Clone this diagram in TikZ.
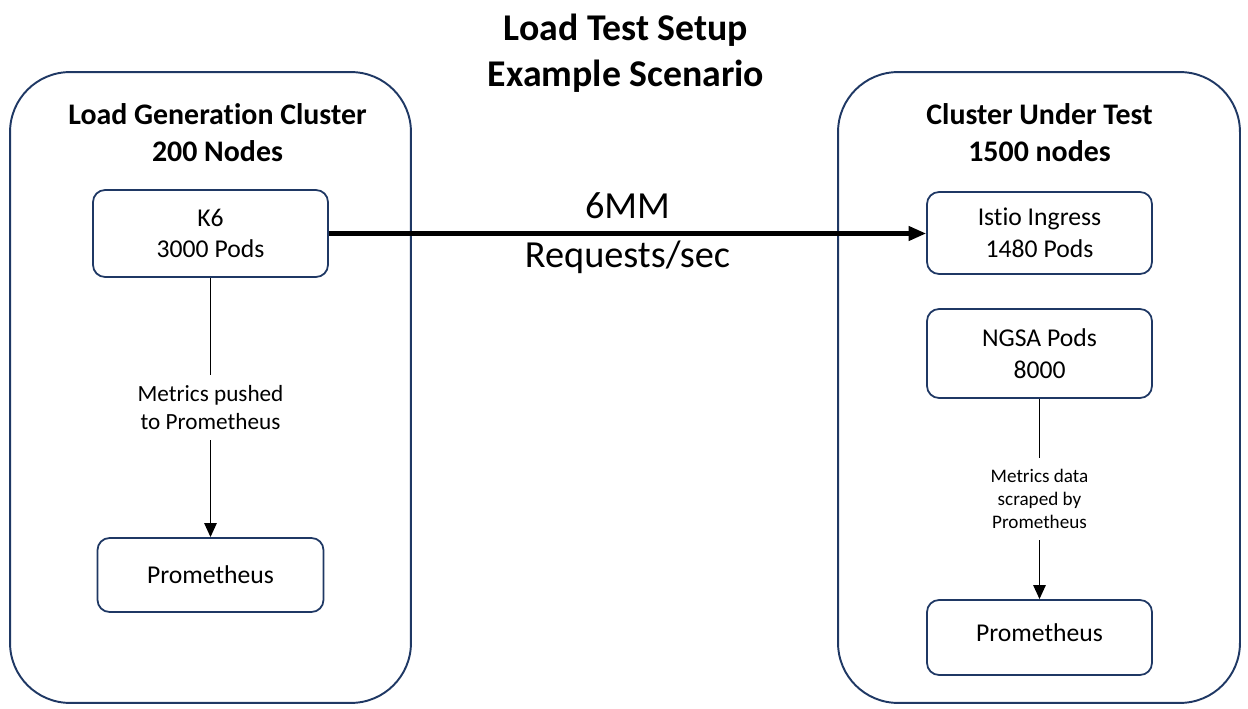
\documentclass[tikz,border=0pt]{standalone}
\usepackage{fontspec}
\setmainfont[Ligatures=NoCommon]{Carlito}
\usetikzlibrary{arrows.meta}
\definecolor{navy}{HTML}{1F3864}
\tikzset{
    > = {Stealth[inset=0pt, length=8pt, width=7pt]},
    cluster/.style = {draw=navy, line width=1.1pt, rounded corners=1.2cm},
    pod/.style = {draw=navy, line width=1pt, rounded corners=0.24cm, align=center,
        font=\fontsize{14.6}{18}\selectfont},
    heading/.style = {align=center, font=\bfseries\fontsize{17}{21}\selectfont},
    flow/.style = {->, line width=1.1pt},
    note/.style = {fill=white, inner sep=6pt, align=center}
}

\begin{document}
\begin{tikzpicture}[x=0.02cm, y=-0.02cm]
    \useasboundingbox (0,0) rectangle (1248,709);

    \node[align=center, font=\bfseries\fontsize{21.5}{26}\selectfont] (title) at (626,53)
        {Load Test Setup\\Example Scenario};

    % load generation side
    \node[cluster, minimum width=8.02cm, minimum height=12.62cm] (loadgen) at (210.5,387.5) {};
    \node[heading] (loadgenhead) at (217.5,133) {Load Generation Cluster\\200 Nodes};
    \node[pod, minimum width=4.7cm, minimum height=1.74cm] (k6) at (210.5,233.5) {K6\\3000 Pods};
    \node[pod, minimum width=4.52cm, minimum height=1.48cm] (promL) at (210.5,575) {Prometheus};

    % cluster under test side
    \node[cluster, minimum width=8.04cm, minimum height=12.62cm] (cut) at (1039,387.5) {};
    \node[heading] (cuthead) at (1039.5,133) {Cluster Under Test\\1500 nodes};
    \node[pod, minimum width=4.5cm, minimum height=1.64cm] (istio) at (1039.5,233) {Istio Ingress\\1480 Pods};
    \node[pod, minimum width=4.5cm, minimum height=1.78cm] (ngsa) at (1039.5,353.5) {NGSA Pods\\8000};
    \node[pod, minimum width=4.5cm, minimum height=1.5cm, text depth=6pt] (promR) at (1039.5,637.5) {Prometheus};

    \draw[-{Stealth[inset=0pt, length=10pt, width=8pt]}, line width=2.3pt] (k6.east) -- (k6.east -| istio.west)
        node[midway, above=4pt, font=\fontsize{21.8}{26}\selectfont] {6MM}
        node[midway, below=0pt, font=\fontsize{21.8}{26}\selectfont] {Requests/sec};

    \draw[flow] (k6) -- node[note, font=\fontsize{13.2}{16}\selectfont]
        {Metrics pushed\\to Prometheus} (promL);
    \draw[flow] (ngsa) -- node[note, font=\fontsize{10.9}{13.3}\selectfont]
        {Metrics data\\scraped by\\Prometheus} (promR);
\end{tikzpicture}
\end{document}
